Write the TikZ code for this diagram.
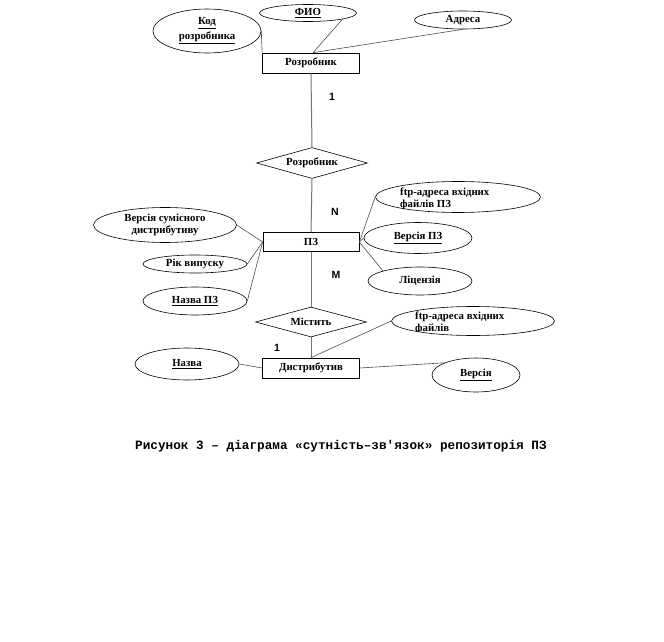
\documentclass[tikz,border=0pt]{standalone}
\usepackage{fontspec}
\setmainfont{Liberation Serif}
\newfontfamily\numfont{Liberation Sans}
\newfontfamily\capfont{Liberation Mono}
\usetikzlibrary{shapes.geometric}
\begin{document}
\begin{tikzpicture}[x=1pt,y=-1pt,
  lbl/.style={font=\bfseries\fontsize{10.8}{12}\selectfont},
  attrib/.style={ellipse,draw=black,line width=0.6pt,inner sep=0pt,align=center,lbl},
  entbox/.style={rectangle,draw=black,line width=0.7pt,inner sep=0pt,lbl},
  relshape/.style={diamond,draw=black,line width=0.6pt,inner sep=0pt,aspect=3.6,lbl},
  conn/.style={draw=black!70,line width=0.6pt},
  relconn/.style={draw=black!55,line width=1pt},
  card/.style={font=\numfont\bfseries\fontsize{10.5}{12}\selectfont,inner sep=0pt}]
\useasboundingbox (0,0) rectangle (664,642);

% entities
\node[entbox,minimum width=97pt,minimum height=20pt] (dev) at (311,63) {Розробник};
\node[entbox,minimum width=96pt,minimum height=19pt] (pz) at (311,242) {ПЗ};
\node[entbox,minimum width=97pt,minimum height=20pt] (dist) at (311,368) {Дистрибутив};

% relationships
\node[relshape,minimum width=111pt,minimum height=31pt] (rel1) at (312,163) {Розробник};
\node[relshape,minimum width=111pt,minimum height=30pt] (rel2) at (311,322) {Містить};

% attributes of Розробник
\node[attrib,minimum width=108pt,minimum height=44pt] (kod) at (207,31)
  {\underline{Код}\\[3pt]\underline{розробника}};
\node[attrib,minimum width=97pt,minimum height=17pt] (fio) at (308,13) {\underline{ФИО}};
\node[attrib,minimum width=97pt,minimum height=18pt] (adr) at (463,20) {Адреса};

% attributes of ПЗ
\node[attrib,minimum width=165pt,minimum height=31pt] (ftp1) at (458,197) {};
\begin{scope}
  \clip (458,197) ellipse [x radius=82.5pt, y radius=15.5pt];
  \node[lbl,anchor=north west,inner sep=0pt,align=left] (ftp1t) at (400,188)
    {ftp-адреса вхідних\\файлів ПЗ};
\end{scope}
\node[attrib,minimum width=108pt,minimum height=31pt] (verpz) at (418,238) {\underline{Версія ПЗ}};
\node[attrib,minimum width=104pt,minimum height=28pt] (lic) at (420,281) {Ліцензія};
\node[attrib,minimum width=143pt,minimum height=35pt] (versum) at (165,225)
  {Версія сумісного\\дистрибутиву};
\node[attrib,minimum width=104pt,minimum height=18pt] (rik) at (195,264) {Рік випуску};
\node[attrib,minimum width=104pt,minimum height=28pt] (nazpz) at (195,301) {\underline{Назва ПЗ}};

% attributes of Дистрибутив
\node[attrib,minimum width=163pt,minimum height=29pt] (ftp2) at (473,321) {};
\begin{scope}
  \clip (473,321) ellipse [x radius=81.5pt, y radius=14.5pt];
  \node[lbl,anchor=north west,inner sep=0pt,align=left] (ftp2t) at (415,312)
    {ftp-адреса вхідних\\файлів};
\end{scope}
\node[attrib,minimum width=104pt,minimum height=32pt] (naz) at (187,364) {\underline{Назва}};
\node[attrib,minimum width=88pt,minimum height=34pt] (ver) at (476,375) {\underline{Версія}};

% connectors
\draw[conn] (kod.east) -- (dev.north west);
\draw[conn] (fio.south east) -- ([xshift=2pt]dev.north);
\draw[conn] (adr.south) -- ([xshift=2pt]dev.north);
\draw[relconn] (dev.south) -- (rel1.north);
\draw[relconn] (rel1.south) -- (pz.north);
\draw[relconn] (pz.south) -- (rel2.north);
\draw[relconn] (rel2.south) -- (dist.north);
\draw[conn] (pz.east) -- (ftp1.west);
\draw[conn] (pz.east) -- (verpz.west);
\draw[conn] (pz.east) -- (lic.north west);
\draw[conn] (versum.east) -- (pz.west);
\draw[conn] (rik.east) -- (pz.west);
\draw[conn] (nazpz.east) -- (pz.west);
\draw[conn] (dist.north) -- (ftp2.west);
\draw[conn] (naz.east) -- (dist.west);
\draw[conn] (dist.east) -- (ver.north west);

% cardinalities
\node[card] (c1) at (332,97) {1};
\node[card] (cn) at (335,212) {N};
\node[card] (cm) at (336,275) {M};
\node[card] (c2) at (277,348) {1};

% caption
\node[font=\capfont\bfseries\fontsize{12.7}{14}\selectfont,inner sep=0pt] (cap) at (341,446)
  {Рисунок 3 – діаграма «сутність–зв'язок» репозиторія ПЗ};
\end{tikzpicture}
\end{document}
